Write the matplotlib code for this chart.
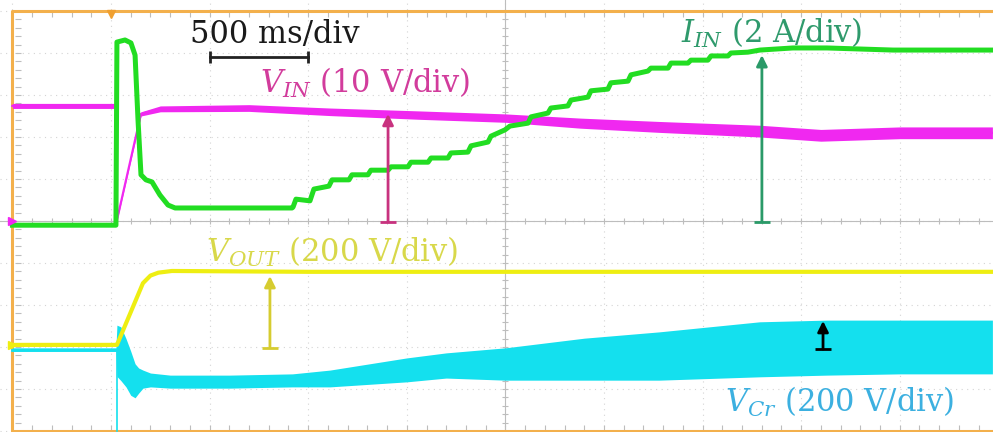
import numpy as np
import matplotlib.pyplot as plt

# time axis in s (500 ms/div, trigger at t = 0), amplitudes in screen divisions
t_vin = [-0.50, 0.025, 0.030, 0.152, 0.25, 0.70, 1.11, 1.57, 2.00, 2.38, 2.78, 3.29, 3.60, 3.80, 4.00, 4.47]
vin = [2.74, 2.74, 0.02, 2.55, 2.67, 2.69, 2.60, 2.52, 2.45, 2.33, 2.24, 2.14, 2.04, 2.07, 2.10, 2.10]
vin_noise = [0.06, 0.06, 0.02, 0.05, 0.07, 0.08, 0.09, 0.10, 0.10, 0.12, 0.13, 0.14, 0.14, 0.14, 0.14, 0.14]

t_iin = [-0.50, 0.025, 0.030, 0.071, 0.101, 0.122, 0.137, 0.152, 0.177, 0.208, 0.248, 0.289, 0.325,
         0.918, 0.923, 0.938, 1.009, 1.029, 1.105, 1.121, 1.207, 1.222, 1.303, 1.318, 1.405, 1.420,
         1.506, 1.521, 1.608, 1.623, 1.709, 1.724, 1.810, 1.826, 1.912, 1.927, 1.998, 2.023, 2.115,
         2.130, 2.216, 2.231, 2.317, 2.333, 2.419, 2.434, 2.520, 2.535, 2.622, 2.637, 2.723, 2.738,
         2.825, 2.840, 2.926, 2.941, 3.027, 3.043, 3.129, 3.144, 3.230, 3.291, 3.458, 3.631, 3.966, 4.473]
iin = [-0.10, -0.10, 4.26, 4.31, 4.24, 3.95, 2.40, 1.10, 0.98, 0.93, 0.62, 0.38, 0.31,
       0.31, 0.33, 0.52, 0.48, 0.76, 0.83, 0.98, 0.98, 1.10, 1.10, 1.21, 1.21, 1.29,
       1.29, 1.40, 1.40, 1.50, 1.50, 1.62, 1.64, 1.79, 1.88, 2.02, 2.17, 2.26, 2.33,
       2.48, 2.57, 2.69, 2.74, 2.88, 2.95, 3.10, 3.14, 3.29, 3.33, 3.48, 3.57, 3.64,
       3.64, 3.76, 3.76, 3.83, 3.83, 3.93, 3.93, 4.00, 4.02, 4.07, 4.12, 4.12, 4.07, 4.07]

t_vout = [-0.50, 0.025, 0.030, 0.162, 0.20, 0.24, 0.309, 1.0, 2.0, 3.0, 4.0, 4.47]
vout = [-2.95, -2.95, -2.95, -1.48, -1.30, -1.23, -1.19, -1.21, -1.21, -1.21, -1.21, -1.21]

t_vcr = [-0.50, 0.025, 0.030, 0.050, 0.076, 0.100, 0.122, 0.140, 0.162, 0.20, 0.30, 0.60, 0.92,
         1.11, 1.50, 1.70, 2.00, 2.40, 2.78, 3.29, 3.63, 4.00, 4.47]
vcr_hi = [-3.02, -3.02, -2.48, -2.52, -2.80, -3.10, -3.40, -3.50, -3.55, -3.62, -3.67, -3.67, -3.64,
          -3.55, -3.26, -3.14, -3.02, -2.79, -2.64, -2.40, -2.36, -2.36, -2.36]
vcr_lo = [-3.10, -3.10, -3.70, -3.80, -3.95, -4.15, -4.21, -4.10, -3.98, -3.95, -3.98, -3.98, -3.95,
          -3.95, -3.83, -3.74, -3.79, -3.79, -3.79, -3.71, -3.67, -3.64, -3.64]

plt.rcParams['font.family'] = 'DejaVu Serif'
plt.rcParams['mathtext.fontset'] = 'dejavuserif'

fig = plt.figure(figsize=(9.93, 4.32), dpi=100)
ax = fig.add_axes([0, 0, 1, 1])
ax.set_xlim(-0.563, 4.473)
ax.set_ylim(-5.024, 5.262)
ax.axis('off')

# scope graticule
for k in range(11):
    tk = -0.5 + 0.5 * k
    ax.axvline(tk, color='#d4d4d4', lw=0.8, ls=(0, (1, 4)), zorder=0)
for k in range(-5, 6):
    ax.axhline(k, color='#d4d4d4', lw=0.8, ls=(0, (1, 4)), zorder=0)
ax.axvline(2.0, color='#bdbdbd', lw=0.8, zorder=0)
ax.axhline(0.0, color='#bdbdbd', lw=0.8, zorder=0)
sub_t = np.arange(-0.5, 4.5, 0.1)
sub_y = np.arange(-5, 5.01, 0.2)
ax.plot(sub_t, np.zeros_like(sub_t), ls='none', marker='|', ms=4, mew=0.8, color='#bdbdbd', zorder=0)
ax.plot(np.full_like(sub_y, 2.0), sub_y, ls='none', marker='_', ms=4, mew=0.8, color='#bdbdbd', zorder=0)
ax.plot(sub_t, np.full_like(sub_t, 4.93), ls='none', marker='|', ms=4, mew=0.8, color='#bdbdbd', zorder=0)
ax.plot(sub_t, np.full_like(sub_t, -4.93), ls='none', marker='|', ms=4, mew=0.8, color='#bdbdbd', zorder=0)
ax.plot(np.full_like(sub_y, -0.47), sub_y, ls='none', marker='_', ms=4, mew=0.8, color='#bdbdbd', zorder=0)

# orange screen frame and trigger mark
ax.plot([4.6, -0.5, -0.5, 4.6], [5.0, 5.0, -5.0, -5.0], color='#f3b04c', lw=2.2, zorder=1)
ax.plot(0.0, 4.93, marker='v', ms=6, color='#f0a030', zorder=6)

# traces
vin = np.array(vin)
vin_noise = np.array(vin_noise)
ax.fill_between(t_vcr, vcr_lo, vcr_hi, color='#14e0ee', lw=0, zorder=2)
ax.plot(t_vcr[:2], [-3.06, -3.06], color='#14e0ee', lw=2, zorder=2)
ax.plot([0.030, 0.030], [-3.1, -5.0], color='#14e0ee', lw=1.2, zorder=2)
ax.plot(t_vout, vout, color='#eeee12', lw=3, zorder=3)
ax.fill_between(t_vin, vin - vin_noise, vin + vin_noise, color='#f028f0', lw=0, zorder=3)
ax.plot(t_vin, vin, color='#f028f0', lw=1.6, zorder=3)
ax.plot(t_iin, iin, color='#22dd22', lw=3.6, zorder=4)

# channel ground markers
ax.plot(-0.5, 0.0, marker='>', ms=6, color='#f028f0', zorder=6)
ax.plot(-0.5, -2.95, marker='>', ms=6, color='#eeee12', zorder=6)


def arrow(x, y0, y1, color):
    ax.annotate('', xy=(x, y1), xytext=(x, y0),
                arrowprops=dict(arrowstyle='-|>', color=color, lw=2, mutation_scale=16,
                                shrinkA=0, shrinkB=0), zorder=7)
    ax.plot(x, y0, marker='_', ms=11, mew=2, color=color, zorder=7)


arrow(1.405, -0.02, 2.55, '#c8327f')
arrow(3.301, -0.02, 3.95, '#2a9a68')
arrow(0.806, -3.02, -1.31, '#d6cc30')
arrow(3.611, -3.05, -2.38, 'black')

# time scale bar
ax.plot([0.5, 1.0], [3.90, 3.90], color='#222222', lw=2, marker='|', ms=9, mew=2, zorder=7)
ax.text(0.832, 4.24, '500 ms/div', fontsize=22, color='#1a1a1a', ha='center', va='baseline', zorder=8)

ax.text(1.288, 3.05, r'$V_{IN}$ (10 V/div)', fontsize=22, color='#d23c9c', ha='center', va='baseline', zorder=8)
ax.text(3.352, 4.24, r'$I_{IN}$ (2 A/div)', fontsize=22, color='#2f9a6c', ha='center', va='baseline', zorder=8)
ax.text(1.12, -0.98, r'$V_{OUT}$ (200 V/div)', fontsize=22, color='#d8d84a', ha='center', va='baseline', zorder=8)
ax.text(3.697, -4.55, r'$V_{Cr}$ (200 V/div)', fontsize=22, color='#3cb0e0', ha='center', va='baseline', zorder=8)

fig.savefig('out.png', dpi=100, facecolor='white')
